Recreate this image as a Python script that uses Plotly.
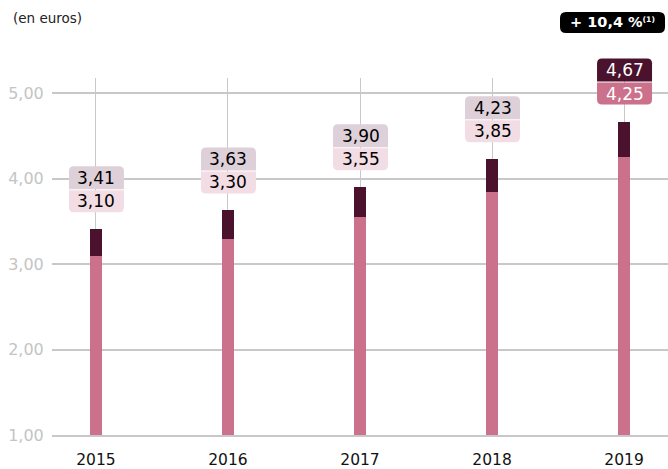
import plotly.graph_objects as go

years = ["2015", "2016", "2017", "2018", "2019"]
base_values = [3.10, 3.30, 3.55, 3.85, 4.25]
total_values = [3.41, 3.63, 3.90, 4.23, 4.67]
y_ticks = [1, 2, 3, 4, 5]
y_tick_text = ["1,00", "2,00", "3,00", "4,00", "5,00"]
unit_label = "(en euros)"
growth_label = "+ 10,4 %"
growth_note = "(1)"

PINK = "#cc718b"
DARK = "#4a122c"
LIGHT_TOP = "#ded0d8"
LIGHT_BOT = "#f3dde4"
GRID = "#c8c8c8"
FONT = "DejaVu Sans"
Y_RANGE = [1, 5.18]

xs = list(range(len(years)))
incr = [t - b for t, b in zip(total_values, base_values)]

fig = go.Figure()
fig.add_trace(go.Bar(x=xs, y=base_values, marker_color=PINK, width=0.09,
                     marker_line_width=0, hoverinfo="skip"))
fig.add_trace(go.Bar(x=xs, y=incr, marker_color=DARK, width=0.09,
                     marker_line_width=0, hoverinfo="skip"))


def rounded(x0, x1, y0, y1, r, top, bottom):
    p = []
    if bottom:
        p.append(f"M {x0+r},{y0}")
        p.append(f"L {x1-r},{y0}")
        p.append(f"Q {x1},{y0} {x1},{y0+r}")
    else:
        p.append(f"M {x0},{y0}")
        p.append(f"L {x1},{y0}")
    if top:
        p.append(f"L {x1},{y1-r}")
        p.append(f"Q {x1},{y1} {x1-r},{y1}")
        p.append(f"L {x0+r},{y1}")
        p.append(f"Q {x0},{y1} {x0},{y1-r}")
    else:
        p.append(f"L {x1},{y1}")
        p.append(f"L {x0},{y1}")
    if bottom:
        p.append(f"L {x0},{y0+r}")
        p.append(f"Q {x0},{y0} {x0+r},{y0}")
    p.append("Z")
    return " ".join(p)


def to_paper(v):
    return (v - Y_RANGE[0]) / (Y_RANGE[1] - Y_RANGE[0])


shapes = []
annotations = []
last = len(years) - 1
for i, (b, t) in enumerate(zip(base_values, total_values)):
    is_last = i == last
    bot_col = PINK if is_last else LIGHT_BOT
    top_col = DARK if is_last else LIGHT_TOP
    txt_col = "white" if is_last else "black"
    shapes.append(dict(type="path", xref="x", yref="paper", xsizemode="pixel", ysizemode="pixel",
                       xanchor=i, yanchor=to_paper(t), path=rounded(-27, 28, 17, 39, 5, False, True),
                       fillcolor=bot_col, line_width=0, layer="above"))
    shapes.append(dict(type="path", xref="x", yref="paper", xsizemode="pixel", ysizemode="pixel",
                       xanchor=i, yanchor=to_paper(t), path=rounded(-27, 28, 40, 63, 5, True, False),
                       fillcolor=top_col, line_width=0, layer="above"))
    annotations.append(dict(x=i, y=t, xref="x", yref="y", yshift=28, xshift=0.5,
                            text=f"{b:.2f}".replace(".", ","), showarrow=False,
                            font=dict(family=FONT, size=17, color=txt_col), yanchor="middle"))
    annotations.append(dict(x=i, y=t, xref="x", yref="y", yshift=51.5, xshift=0.5,
                            text=f"{t:.2f}".replace(".", ","), showarrow=False,
                            font=dict(family=FONT, size=17, color=txt_col), yanchor="middle"))

# growth badge
shapes.append(dict(type="path", xref="paper", yref="paper", xsizemode="pixel", ysizemode="pixel",
                   xanchor=1, yanchor=1, path=rounded(-108, -3, 45, 66, 6, True, True),
                   fillcolor="black", line_width=0, layer="above"))
annotations.append(dict(x=1, y=1, xref="paper", yref="paper", xshift=-56, yshift=56,
                        text=f"<b>{growth_label}<span style='font-size:11px'><sup>{growth_note}</sup></span></b>",
                        showarrow=False,
                        font=dict(family=FONT, size=14.5, color="white"),
                        xanchor="center", yanchor="middle"))
annotations.append(dict(x=0, y=1, xref="paper", yref="paper", xshift=-41, yshift=60,
                        text=unit_label, showarrow=False, xanchor="left", yanchor="middle",
                        font=dict(family=FONT, size=13.5, color="#222222")))

fig.update_layout(
    width=668, height=469,
    margin=dict(l=52, r=0, t=78, b=34),
    barmode="stack",
    showlegend=False,
    plot_bgcolor="white", paper_bgcolor="white",
    shapes=shapes, annotations=annotations,
    xaxis=dict(range=[-0.333, 4.333], tickvals=xs, ticktext=years, automargin=False,
               showgrid=True, gridcolor=GRID, gridwidth=1,
               ticks="outside", ticklen=10, tickcolor="rgba(0,0,0,0)",
               tickfont=dict(family=FONT, size=15.5, color="#111111"),
               showline=True, linecolor=GRID, linewidth=1.5, zeroline=False, fixedrange=True),
    yaxis=dict(range=Y_RANGE, tickvals=y_ticks, ticktext=y_tick_text, automargin=False,
               showgrid=True, gridcolor=GRID, gridwidth=1.5, zeroline=False,
               ticks="outside", ticklen=4, tickcolor="rgba(0,0,0,0)",
               tickfont=dict(family=FONT, size=16, color="#c4c4c4"), fixedrange=True),
)

fig.write_html("out.html", config={"displayModeBar": False},
               post_script="document.body.style.margin='0';document.body.style.overflow='hidden';")
